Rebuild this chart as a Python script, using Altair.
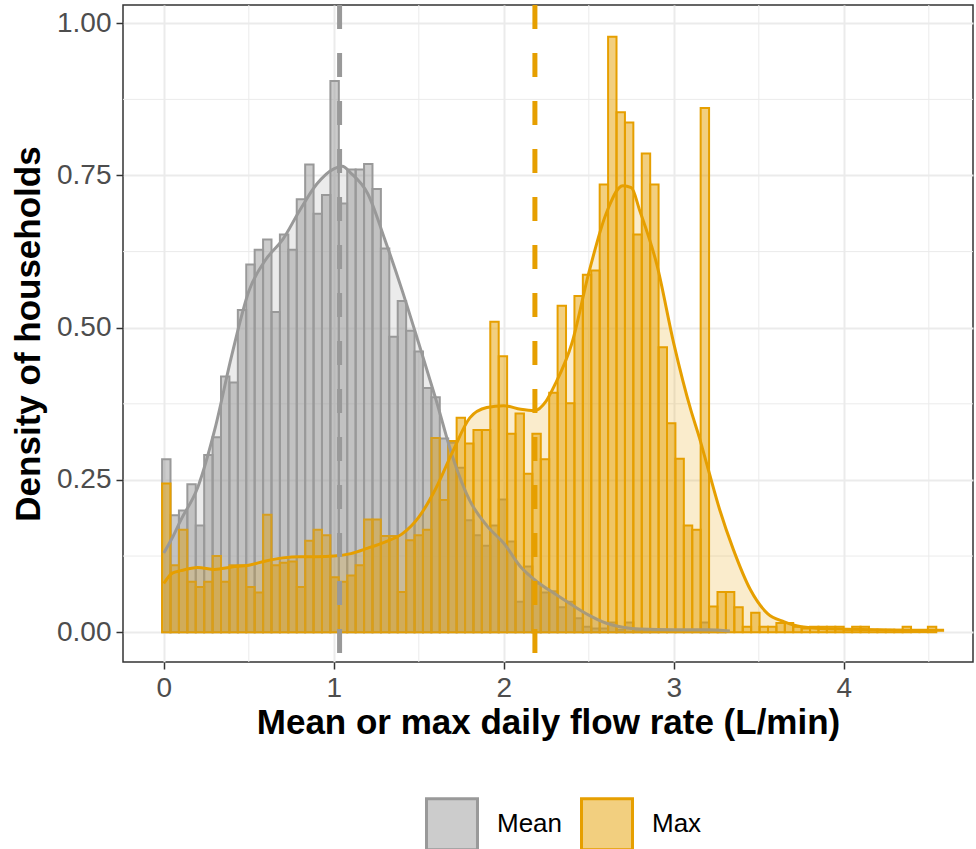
import altair as alt
import pandas as pd

# ---- data ----
BIN_START = -0.01
BIN_WIDTH = 0.0495

mean_density = [
    0.284, 0.192, 0.200, 0.243, 0.175, 0.291, 0.320, 0.420, 0.410, 0.529,
    0.604, 0.628, 0.645, 0.526, 0.653, 0.628, 0.711, 0.768, 0.687, 0.718,
    0.905, 0.704, 0.760, 0.760, 0.769, 0.728, 0.630, 0.485, 0.544, 0.495,
    0.461, 0.401, 0.386, 0.318, 0.311, 0.270, 0.184, 0.159, 0.142, 0.175,
    0.218, 0.149, 0.050, 0.108, 0.080, 0.065, 0.067, 0.041, 0.050, 0.023,
    0.009, 0.006, 0.006, 0.016, 0.004, 0.016, 0.004, 0.004, 0.004, 0.002,
    0.002, 0.002, 0.002, 0.002, 0.016, 0.002, 0.0,
]

max_density = [
    0.244, 0.110, 0.168, 0.083, 0.074, 0.083, 0.125, 0.083, 0.110, 0.110,
    0.074, 0.065, 0.193, 0.110, 0.114, 0.116, 0.074, 0.150, 0.168, 0.159,
    0.090, 0.083, 0.093, 0.110, 0.185, 0.185, 0.158, 0.158, 0.066, 0.151,
    0.159, 0.168, 0.319, 0.217, 0.314, 0.352, 0.310, 0.332, 0.332, 0.510,
    0.453, 0.326, 0.359, 0.260, 0.326, 0.284, 0.393, 0.536, 0.376, 0.552,
    0.587, 0.594, 0.735, 0.978, 0.854, 0.837, 0.653, 0.786, 0.735, 0.468,
    0.343, 0.285, 0.175, 0.168, 0.861, 0.042, 0.066, 0.066, 0.041, 0.009,
    0.032, 0.009, 0.009, 0.015, 0.015, 0.009, 0.006, 0.009, 0.009, 0.009,
    0.009, 0.004, 0.009, 0.009, 0.004, 0.004, 0.004, 0.004, 0.009, 0.003,
    0.003, 0.009,
]

mean_curve_x = [0.0, 0.05, 0.1, 0.2, 0.3, 0.4, 0.5, 0.6, 0.7, 0.8, 0.9, 1.0,
                1.05, 1.1, 1.2, 1.3, 1.4, 1.5, 1.6, 1.7, 1.8, 1.9, 2.0, 2.1,
                2.2, 2.3, 2.4, 2.5, 2.6, 2.7, 2.8, 3.0, 3.2, 3.33]
mean_curve_y = [0.130, 0.155, 0.184, 0.238, 0.333, 0.455, 0.560, 0.612, 0.645,
                0.693, 0.736, 0.761, 0.765, 0.754, 0.720, 0.645, 0.563, 0.474,
                0.383, 0.287, 0.216, 0.175, 0.146, 0.107, 0.082, 0.063, 0.045,
                0.028, 0.015, 0.008, 0.005, 0.004, 0.004, 0.002]

max_curve_x = [0.0, 0.05, 0.1, 0.2, 0.3, 0.4, 0.5, 0.6, 0.7, 0.8, 0.9, 1.0,
               1.1, 1.2, 1.3, 1.4, 1.5, 1.6, 1.7, 1.8, 1.9, 2.0, 2.1, 2.18,
               2.25, 2.3, 2.4, 2.5, 2.6, 2.7, 2.75, 2.8, 2.9, 3.0, 3.1, 3.15,
               3.2, 3.27, 3.35, 3.45, 3.55, 3.65, 3.75, 3.95, 4.2, 4.4, 4.59]
max_curve_y = [0.080, 0.097, 0.101, 0.106, 0.103, 0.107, 0.110, 0.117, 0.122,
               0.124, 0.124, 0.125, 0.129, 0.138, 0.148, 0.161, 0.189, 0.236,
               0.297, 0.352, 0.369, 0.372, 0.366, 0.364, 0.380, 0.406, 0.474,
               0.590, 0.686, 0.733, 0.730, 0.692, 0.604, 0.474, 0.365, 0.320,
               0.270, 0.201, 0.136, 0.070, 0.031, 0.017, 0.009, 0.005, 0.004,
               0.003, 0.003]

series_names = ["Mean", "Max"]
series_avg = [1.034, 2.183]
line_colors = ["#999999", "#E69F00"]
fill_colors = ["rgba(153,153,153,0.5)", "rgba(230,159,0,0.5)"]

x_major = [0, 1, 2, 3, 4]
x_minor = [0.5, 1.5, 2.5, 3.5, 4.5]
y_major = [0, 0.25, 0.5, 0.75, 1.0]
y_minor = [0.125, 0.375, 0.625, 0.875]

# ---- tables ----
def hist_table(name, vals):
    return pd.DataFrame({
        "series": name,
        "x0": [BIN_START + i * BIN_WIDTH for i in range(len(vals))],
        "x1": [BIN_START + (i + 1) * BIN_WIDTH for i in range(len(vals))],
        "density": vals,
    })

hist_mean = hist_table("Mean", mean_density)
hist_max = hist_table("Max", max_density)
curve_mean = pd.DataFrame({"series": "Mean", "x": mean_curve_x, "y": mean_curve_y})
curve_max = pd.DataFrame({"series": "Max", "x": max_curve_x, "y": max_curve_y})
avg_df = pd.DataFrame({"series": series_names, "avg": series_avg})

FONT = "Liberation Sans"
XDOM = [-0.24, 4.76]
YDOM = [-0.049, 1.03]

xs = alt.Scale(domain=XDOM, nice=False, zero=False)
ys = alt.Scale(domain=YDOM, nice=False, zero=False)
fill_scale = alt.Scale(domain=series_names, range=fill_colors)
stroke_scale = alt.Scale(domain=series_names, range=line_colors)

legend = alt.Legend(
    title=None, orient="none", legendX=302, legendY=792, direction="horizontal",
    symbolType="square", symbolSize=2600, symbolStrokeWidth=3,
    labelFontSize=26, labelFont=FONT, labelColor="black", labelOffset=18,
    columnPadding=12, padding=0,
)

x_axis = alt.Axis(values=x_major, title="Mean or max daily flow rate (L/min)",
                  format="d")
y_axis = alt.Axis(values=y_major, title="Density of households", format=".2f")

# minor gridlines
vminor = alt.Chart(pd.DataFrame({"v": x_minor})).mark_rule(
    color="#EBEBEB", strokeWidth=1
).encode(x=alt.X("v:Q", scale=xs, axis=x_axis))
hminor = alt.Chart(pd.DataFrame({"v": y_minor})).mark_rule(
    color="#EBEBEB", strokeWidth=1
).encode(y=alt.Y("v:Q", scale=ys, axis=y_axis))


def bars(df, with_legend):
    return alt.Chart(df).mark_rect(strokeWidth=2).encode(
        x=alt.X("x0:Q", scale=xs, axis=x_axis),
        x2="x1:Q",
        y=alt.Y("density:Q", scale=ys, axis=y_axis),
        y2=alt.datum(0),
        fill=alt.Fill("series:N", scale=fill_scale,
                      legend=legend if with_legend else None),
        stroke=alt.Stroke("series:N", scale=stroke_scale,
                          legend=legend if with_legend else None),
    )


def curve(df, col):
    base = alt.Chart(df).encode(
        x=alt.X("x:Q", scale=xs, axis=x_axis),
        y=alt.Y("y:Q", scale=ys, axis=y_axis),
    )
    area = base.mark_area(color=col, fillOpacity=0.2, interpolate="monotone").encode(
        y2=alt.datum(0)
    )
    line = base.mark_line(color=col, strokeWidth=3, interpolate="monotone")
    return area + line


vlines = alt.Chart(avg_df).mark_rule(strokeWidth=5, strokeDash=[24, 24]).encode(
    x=alt.X("avg:Q", scale=xs, axis=x_axis),
    stroke=alt.Stroke("series:N", scale=stroke_scale, legend=None),
)

chart = alt.layer(
    vminor, hminor,
    bars(hist_mean, True), bars(hist_max, True),
    curve(curve_mean, "#999999"), curve(curve_max, "#E69F00"),
    vlines,
).properties(
    width=850, height=657,
    autosize=alt.AutoSizeParams(type="none"),
    padding={"left": 123, "top": 5, "right": 3, "bottom": 187},
).configure_view(
    stroke="#333333", strokeWidth=1.5
).configure_axis(
    grid=True, gridColor="#EBEBEB", gridWidth=2,
    domain=False, ticks=True, tickColor="#333333", tickSize=7, tickWidth=1.5,
    labelFont=FONT, labelFontSize=28, labelColor="#4D4D4D", labelPadding=5,
    titleFont=FONT, titleFontSize=35, titleFontWeight="bold", titleColor="black",
).configure_axisX(
    titlePadding=3
).configure_axisY(
    titlePadding=10
)

chart.save("out.html", embed_options={"renderer": "svg", "actions": False})
